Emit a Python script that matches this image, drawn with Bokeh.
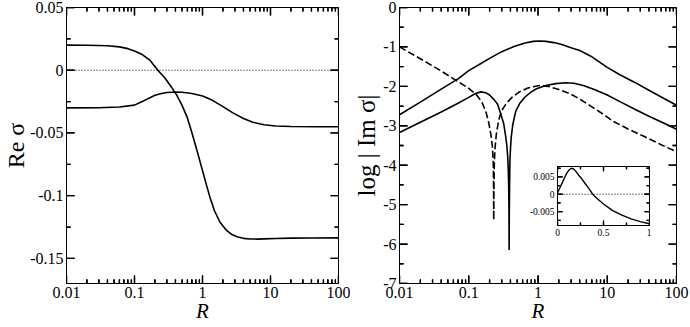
import math
from bokeh.plotting import figure
from bokeh.layouts import row
from bokeh.models import Range1d, FixedTicker, Span, Whisker, ColumnDataSource
from bokeh.embed import file_html
from bokeh.resources import INLINE

# ---------------- data ----------------
x_range_lr = [0.01, 100]
x_ticks = [0.01, 0.1, 1, 10, 100]
x_tick_labels = ["0.01", "0.1", "1", "10", "100"]
x_minor = [m * d for d in (0.01, 0.1, 1, 10) for m in range(2, 10)]

left_y_range = [-0.17, 0.05]
left_y_ticks = [-0.15, -0.1, -0.05, 0, 0.05]
left_y_labels = ["-0.15", "-0.1", "-0.05", "0", "0.05"]
left_y_minor = [-0.125, -0.075, -0.025, 0.025]

R_a = [0.01, 0.02, 0.04, 0.06, 0.08, 0.1, 0.13, 0.17, 0.22, 0.28, 0.35, 0.42,
       0.5, 0.6, 0.7, 0.8, 0.9, 1.0, 1.15, 1.3, 1.5, 1.8, 2.2, 2.7, 3.3, 4,
       5, 6.5, 8, 12, 20, 40, 100]
re_a = [0.0200, 0.0199, 0.0195, 0.0186, 0.0172, 0.0154, 0.0125, 0.0078, 0.0,
        -0.0062, -0.0135, -0.020, -0.028, -0.038, -0.050, -0.061, -0.071,
        -0.080, -0.092, -0.102, -0.112, -0.121, -0.127, -0.131, -0.1330,
        -0.1340, -0.1345, -0.1346, -0.1344, -0.1341, -0.1338, -0.1337, -0.1336]

R_b = [0.01, 0.03, 0.06, 0.1, 0.13, 0.16, 0.2, 0.25, 0.3, 0.4, 0.5, 0.7, 1.0,
       1.4, 2, 2.8, 4, 5.5, 8, 12, 20, 50, 100]
re_b = [-0.0300, -0.0299, -0.0293, -0.0278, -0.0250, -0.0225, -0.0200, -0.0185,
        -0.0177, -0.0173, -0.0175, -0.0185, -0.0205, -0.0240, -0.0290, -0.0340,
        -0.0385, -0.0415, -0.0435, -0.0445, -0.0448, -0.0450, -0.0450]

right_y_range = [-7, 0]
right_y_ticks = [-7, -6, -5, -4, -3, -2, -1, 0]
right_y_labels = ["-7", "-6", "-5", "-4", "-3", "-2", "-1", "0"]
right_y_minor = [-6.5, -5.5, -4.5, -3.5, -2.5, -1.5, -0.5]

R_u = [0.01, 0.02, 0.04, 0.07, 0.1, 0.15, 0.2, 0.3, 0.45, 0.65, 0.85, 1.05,
       1.3, 1.7, 2.2, 3, 4, 6, 10, 15, 25, 40, 65, 100]
im_u = [-2.72, -2.40, -2.07, -1.81, -1.60, -1.42, -1.29, -1.12, -0.99, -0.90,
        -0.86, -0.85, -0.86, -0.89, -0.94, -1.02, -1.09, -1.25, -1.52, -1.70,
        -1.90, -2.10, -2.30, -2.48]

R_l = [0.01, 0.02, 0.04, 0.07, 0.1, 0.125, 0.15, 0.175, 0.2, 0.23, 0.26, 0.29,
       0.32, 0.34, 0.355, 0.365, 0.373, 0.378, 0.381, 0.383, 0.385, 0.388,
       0.393, 0.40, 0.41, 0.43, 0.46, 0.48, 0.55, 0.65, 0.8, 0.95, 1.3, 1.8,
       2.5, 3.3, 4.5, 6.5, 10, 15, 25, 40, 65, 100]
im_l = [-3.17, -2.91, -2.65, -2.43, -2.28, -2.18, -2.14, -2.16, -2.22, -2.33,
        -2.45, -2.70, -2.95, -3.25, -3.50, -3.78, -4.15, -4.60, -5.20, -6.15,
        -5.20, -4.60, -3.90, -3.60, -3.30, -3.00, -2.75, -2.62, -2.42, -2.27,
        -2.14, -2.06, -1.98, -1.93, -1.91, -1.92, -1.98, -2.08, -2.22, -2.38,
        -2.58, -2.76, -2.93, -3.09]

R_d = [0.01, 0.02, 0.04, 0.07, 0.1, 0.13, 0.155, 0.178, 0.195, 0.21, 0.22,
       0.226, 0.2285, 0.2295, 0.231, 0.234, 0.24, 0.25, 0.265, 0.28, 0.31,
       0.35, 0.42, 0.54, 0.7, 0.85, 1.05, 1.4, 2, 3, 4, 6, 9, 12, 20, 35, 60, 100]
im_d = [-1.00, -1.30, -1.61, -1.88, -2.05, -2.22, -2.40, -2.66, -2.93, -3.25,
        -3.55, -3.95, -4.60, -5.39, -4.60, -3.95, -3.55, -3.22, -2.95, -2.76,
        -2.57, -2.43, -2.28, -2.14, -2.05, -2.01, -1.98, -2.00, -2.08, -2.20,
        -2.32, -2.52, -2.72, -2.88, -3.08, -3.28, -3.48, -3.66]

inset_x_range = [0, 1]
inset_x_ticks = [0, 0.5, 1]
inset_x_labels = ["0", "0.5", "1"]
inset_x_minor = [0.25, 0.75]
inset_y_range = [-0.009, 0.008]
inset_y_ticks = [-0.005, 0, 0.005]
inset_y_labels = ["-0.005", "0", "0.005"]
inset_y_minor = [-0.0075, -0.0025, 0.0025, 0.0075]

x_in = [0, 0.025, 0.05, 0.075, 0.1, 0.125, 0.15, 0.175, 0.2, 0.23, 0.26, 0.3,
        0.34, 0.38, 0.43, 0.5, 0.6, 0.7, 0.8, 0.9, 1.0]
y_in = [0.0004, 0.0018, 0.0032, 0.0047, 0.0060, 0.0070, 0.0075, 0.0073, 0.0066,
        0.0055, 0.0046, 0.0031, 0.0017, 0.0001, -0.0012, -0.0028, -0.0047,
        -0.0060, -0.0071, -0.0079, -0.0085]

FONT = "Liberation Serif"


def style_axis(ax, ticks, minor, labels, size, standoff, tin, tmin):
    ax.ticker = FixedTicker(ticks=ticks, minor_ticks=minor)
    ax.major_label_overrides = {t: l for t, l in zip(ticks, labels)}
    ax.major_tick_in = tin
    ax.major_tick_out = 0
    ax.minor_tick_in = tmin
    ax.minor_tick_out = 0
    ax.major_tick_line_color = "black"
    ax.minor_tick_line_color = "black"
    ax.axis_line_color = "black"
    ax.axis_line_width = 1
    ax.major_label_text_font = FONT
    ax.major_label_text_font_size = size
    ax.major_label_text_color = "black"
    ax.major_label_standoff = standoff
    ax.axis_label_text_font = FONT
    ax.axis_label_text_color = "black"
    ax.axis_label_text_font_style = "normal"


def whisk(p, base, lower, upper, dim):
    src = ColumnDataSource(dict(base=base, lower=lower, upper=upper))
    p.add_layout(Whisker(base="base", lower="lower", upper="upper",
                         dimension=dim, source=src, lower_head=None,
                         upper_head=None, line_color="black", line_width=1.3))


def frame_ticks(p, xr, yr, xt, xm, yt, ym, fw, fh, big, small, logx):
    """Inward ticks on all four sides of a frame of fw x fh pixels."""
    for ticks, ln in ((xt, big), (xm, small)):
        n = len(ticks)
        for yv in yr:
            p.rect(x=ticks, y=[yv] * n, width=1.3, height=2 * ln,
                   width_units="screen", height_units="screen",
                   fill_color="black", line_color=None)
        d = (yr[1] - yr[0]) * ln / fh
        whisk(p, ticks, [yr[0]] * n, [yr[0] + d] * n, "height")
        whisk(p, ticks, [yr[1] - d] * n, [yr[1]] * n, "height")
    for ticks, ln in ((yt, big), (ym, small)):
        n = len(ticks)
        for xv in xr:
            p.rect(x=[xv] * n, y=ticks, width=2 * ln, height=1.3,
                   width_units="screen", height_units="screen",
                   fill_color="black", line_color=None)
        if logx:
            f = (xr[1] / xr[0]) ** (ln / fw)
            lft, rgt = xr[0] * f, xr[1] / f
        else:
            d = (xr[1] - xr[0]) * ln / fw
            lft, rgt = xr[0] + d, xr[1] - d
        whisk(p, ticks, [xr[0]] * n, [lft] * n, "width")
        whisk(p, ticks, [rgt] * n, [xr[1]] * n, "width")


def make_panel(width, yr, yt, ym, yl, bl, br, ylabel, ylabel_size, lstand):
    p = figure(width=width, height=327, x_axis_type="log",
               x_range=Range1d(*x_range_lr), y_range=Range1d(*yr),
               output_backend="svg", toolbar_location=None,
               min_border_left=bl, min_border_right=br, min_border_top=7,
               min_border_bottom=44)
    p.xgrid.visible = False
    p.ygrid.visible = False
    p.outline_line_color = "black"
    style_axis(p.xaxis[0], x_ticks, x_minor, x_tick_labels, "16px", 3, 8, 4)
    style_axis(p.yaxis[0], yt, ym, yl, "16px", 3, 8, 4)
    p.xaxis[0].axis_label = "R"
    p.xaxis[0].axis_label_text_font_size = "21px"
    p.xaxis[0].axis_label_text_font_style = "italic"
    p.xaxis[0].axis_label_standoff = -2
    p.yaxis[0].axis_label = ylabel
    p.yaxis[0].axis_label_text_font_size = ylabel_size
    p.yaxis[0].axis_label_standoff = lstand
    frame_ticks(p, x_range_lr, yr, x_ticks, x_minor, yt, ym,
                width - bl - br, 276, 8, 4, True)
    return p


p1 = make_panel(350, left_y_range, left_y_ticks, left_y_minor, left_y_labels,
                66, 12, "Re σ", "24px", -2)
p1.add_layout(Span(location=0, dimension="width", line_color="black",
                   line_width=1, line_dash="1 2"))
p1.line(R_a, re_a, line_color="black", line_width=1.6)
p1.line(R_b, re_b, line_color="black", line_width=1.6)

p2 = make_panel(340, right_y_range, right_y_ticks, right_y_minor, right_y_labels,
                48, 14, "log | Im σ|", "25px", 0)
p2.line(R_u, im_u, line_color="black", line_width=1.6)
p2.line(R_l, im_l, line_color="black", line_width=1.6)
p2.line(R_d, im_d, line_color="black", line_width=1.6, line_dash="7 3")

p3 = figure(width=128, height=110, x_range=Range1d(*inset_x_range),
            y_range=Range1d(*inset_y_range), output_backend="svg",
            toolbar_location=None, min_border_left=34, min_border_right=2,
            min_border_top=2, min_border_bottom=16)
p3.xgrid.visible = False
p3.ygrid.visible = False
p3.outline_line_color = "black"
p3.background_fill_color = "white"
p3.border_fill_color = None
style_axis(p3.xaxis[0], inset_x_ticks, inset_x_minor, inset_x_labels, "9.5px", 3, 5, 3)
style_axis(p3.yaxis[0], inset_y_ticks, inset_y_minor, inset_y_labels, "9.5px", 3, 5, 3)
frame_ticks(p3, inset_x_range, inset_y_range, inset_x_ticks, inset_x_minor,
            inset_y_ticks, inset_y_minor, 92, 92, 5, 3, False)
p3.add_layout(Span(location=0, dimension="width", line_color="black",
                   line_width=1, line_dash="1 2"))
p3.line(x_in, y_in, line_color="black", line_width=1.4)
p3.styles = {"position": "absolute", "left": "523px", "top": "159px"}

layout = row(p1, p2, p3)
open("out.html", "w").write(file_html(layout, INLINE))
